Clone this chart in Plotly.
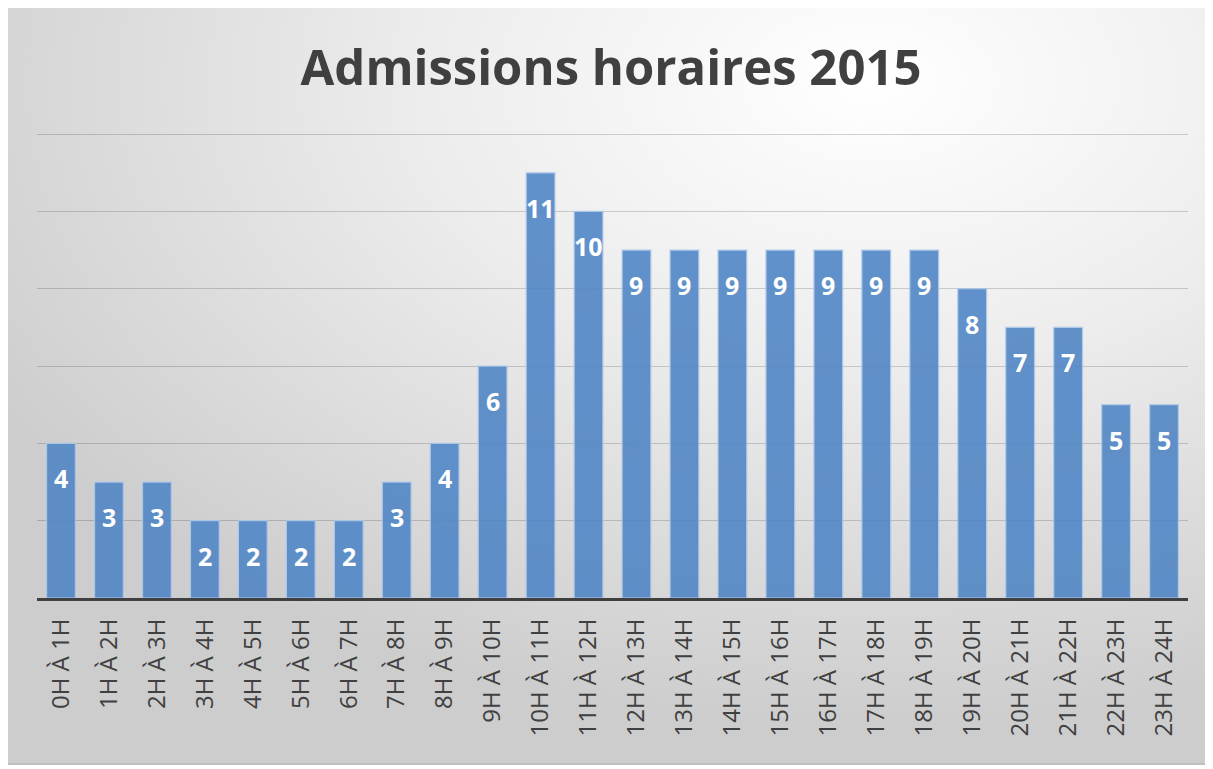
import plotly.graph_objects as go

categories = ["0H À 1H", "1H À 2H", "2H À 3H", "3H À 4H", "4H À 5H", "5H À 6H",
              "6H À 7H", "7H À 8H", "8H À 9H", "9H À 10H", "10H À 11H", "11H À 12H",
              "12H À 13H", "13H À 14H", "14H À 15H", "15H À 16H", "16H À 17H",
              "17H À 18H", "18H À 19H", "19H À 20H", "20H À 21H", "21H À 22H",
              "22H À 23H", "23H À 24H"]
admissions = [4, 3, 3, 2, 2, 2, 2, 3, 4, 6, 11, 10, 9, 9, 9, 9, 9, 9, 9, 8, 7, 7, 5, 5]
title_text = "Admissions horaires 2015"

OFF = 8  # page body margin
W, H = 1213 - OFF, 769 - OFF
L, R, T, B = 37 - OFF, 25, 133 - OFF, 171
PW, PH = W - L - R, H - T - B

def px_x(p):
    return (p - OFF - L) / PW

def px_y(p):
    return (H - B - (p - OFF)) / PH

svg = ("data:image/svg+xml;utf8,"
       "<svg xmlns='http://www.w3.org/2000/svg' width='1200' height='757' preserveAspectRatio='none'>"
       "<defs><radialGradient id='g' cx='0.72' cy='0.1' r='0.85' fx='0.72' fy='0.1'>"
       "<stop offset='0' stop-color='%23ffffff'/>"
       "<stop offset='0.45' stop-color='%23ececec'/>"
       "<stop offset='1' stop-color='%23cdcdcd'/>"
       "</radialGradient></defs>"
       "<rect width='1200' height='757' fill='url(%23g)'/></svg>")

fig = go.Figure()
fig.add_trace(go.Bar(
    x=categories, y=admissions,
    marker=dict(color="#5287C6", opacity=0.9,
                line=dict(color="#a9c6ea", width=1.2)),
    width=0.6,
    hoverinfo="x+y",
))

for c, v in zip(categories, admissions):
    fig.add_annotation(x=c, y=v, text=f"<b>{v}</b>", showarrow=False,
                       yanchor="top", yshift=-16,
                       font=dict(family="Open Sans", size=25, color="white"))

fig.update_layout(
    width=W, height=H,
    margin=dict(l=L, r=R, t=T, b=B),
    paper_bgcolor="white",
    plot_bgcolor="rgba(0,0,0,0)",
    showlegend=False,
    title=dict(text=f"<b>{title_text}</b>", x=px_x(611), xref="paper", xanchor="center",
               y=1 - (68 - OFF) / H, yanchor="middle",
               font=dict(family="Open Sans", size=49, color="#404040")),
    xaxis=dict(showline=True, linecolor="#404040", linewidth=3,
               tickangle=-90, ticks="outside", tickcolor="rgba(0,0,0,0)", ticklen=8,
               tickfont=dict(family="Open Sans", size=24, color="#404040"),
               showgrid=False, range=[-0.5, 23.5]),
    yaxis=dict(range=[0, 12.03], dtick=2, showticklabels=False, zeroline=False,
               gridcolor="rgba(0,0,0,0.17)", gridwidth=1),
    images=[dict(source=svg, xref="paper", yref="paper",
                 x=px_x(6), y=px_y(7), sizex=px_x(1206) - px_x(6),
                 sizey=px_y(7) - px_y(764), xanchor="left", yanchor="top",
                 sizing="stretch", layer="below")],
    shapes=[dict(type="rect", xref="paper", yref="paper",
                 x0=px_x(6), x1=px_x(1206), y0=px_y(764), y1=px_y(7),
                 line=dict(color="#bfbfbf", width=2), fillcolor="rgba(0,0,0,0)",
                 layer="below")],
)

fig.write_html("out.html")
